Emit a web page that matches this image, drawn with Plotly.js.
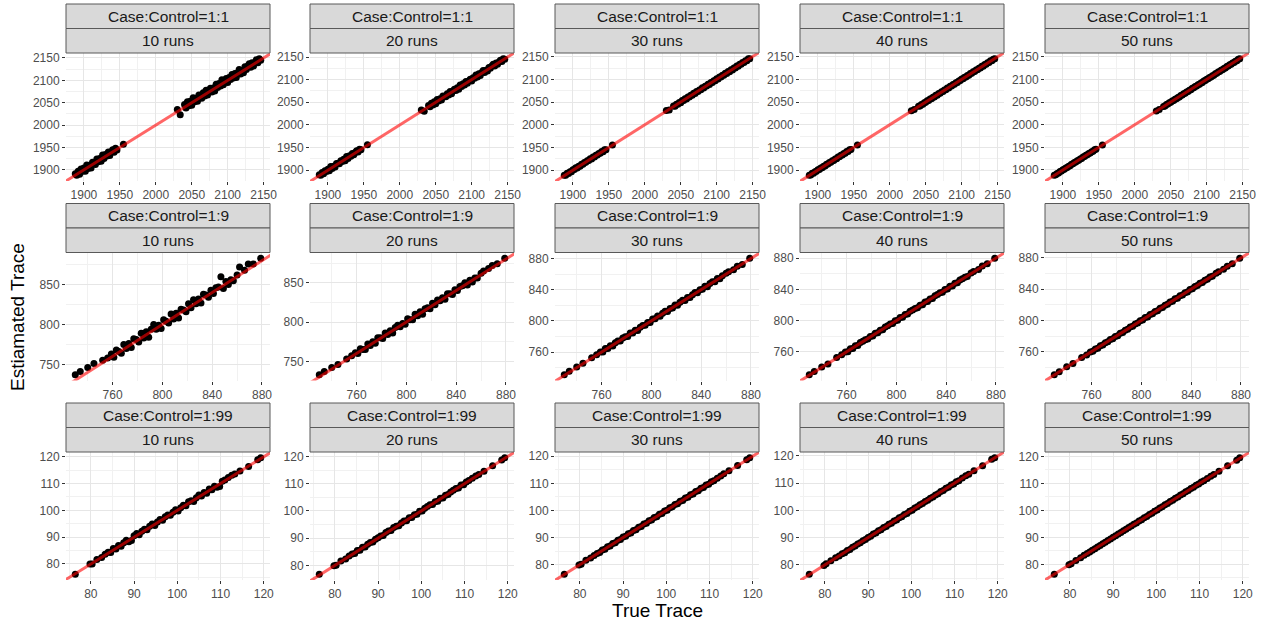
<!DOCTYPE html>
<html>
<head>
<meta charset="utf-8">
<script src="https://cdn.plot.ly/plotly-3.0.1.min.js"></script>
<style>
  html, body { margin: 0; padding: 0; background: #ffffff; }
  #chart { width: 1263px; height: 622px; }
</style>
</head>
<body>
<div id="chart"></div>
<script>
// Facet labels
const ratioLabels = ['Case:Control=1:1', 'Case:Control=1:9', 'Case:Control=1:99'];
const runLabels = ['10 runs', '20 runs', '30 runs', '40 runs', '50 runs'];

// Tick labels
const ticksR1 = [1900, 1950, 2000, 2050, 2100, 2150];
const ticksR2x = [760, 800, 840, 880];
const ticksR2yA = [750, 800, 850];
const ticksR2yB = [760, 800, 840, 880];
const ticksR3 = [80, 90, 100, 110, 120];

// Case:Control = 1:1 — true trace and estimated trace per number of runs
const trueR1 = [1888,1890,1892,1894,1896,1898,1900,1902,1904,1906,1908,1910,1912,1914,1916,1918,1920,1922,1924,1926,1928,1930,1932,1934,1936,1938,1940,1942,1944,1946,
  1955,2030,2034,
  2040,2042,2044,2046,2048,2050,2052,2054,2056,2058,2060,2062,2064,2066,2068,2070,2072,2074,2076,2078,2080,2082,2084,2086,2088,2090,2092,2094,2096,2098,
  2100,2102,2104,2106,2108,2110,2112,2114,2116,2118,2120,2122,2124,2126,2128,2130,2132,2134,2136,2138,2140,2142,2144,2146];
const est11_10 = [1891,1888,1897,1890,1902,1897,1904,1897,1911,1903,1910,1904,1917,1915,1912,1924,1918,1925,1919,1933,1925,1934,1931,1940,1932,1940,1945,1939,1948,1944,
  1957,2035,2023,
  2046,2038,2052,2043,2053,2044,2061,2052,2060,2053,2067,2063,2060,2072,2065,2078,2067,2076,2082,2074,2083,2076,2091,2084,2093,2087,2101,2090,2098,2104,
  2095,2106,2102,2113,2105,2115,2106,2117,2124,2114,2122,2117,2130,2124,2132,2137,2129,2139,2132,2140,2146,2139,2148,2145];
const est11_20 = [1890,1889,1895,1892,1899,1897,1902,1899,1908,1904,1909,1907,1915,1915,1914,1921,1919,1924,1921,1930,1926,1932,1931,1937,1934,1939,1943,1940,1946,1945,
  1956,2033,2030,
  2043,2040,2048,2044,2051,2047,2056,2053,2058,2055,2064,2063,2062,2069,2066,2074,2069,2075,2079,2076,2082,2079,2088,2085,2091,2088,2096,2092,2097,2101,
  2097,2104,2103,2110,2106,2113,2109,2116,2120,2116,2121,2119,2127,2125,2130,2134,2130,2137,2134,2139,2143,2140,2146,2145];
const est11_30 = [1889.2,1889.2,1893.5,1893.0,1896.7,1896.7,1901.1,1901.5,1905.4,1905.1,1908.8,1909.0,1913.3,1913.2,1917.1,1917.4,1921.0,1921.3,1925.2,1924.6,1929.3,1929.1,1933.0,1933.4,1936.8,1937.2,1941.4,1940.9,1945.1,1945.3,
  1955.8,2031.3,2032.6,
  2041.2,2041.1,2045.4,2045.0,2048.9,2048.8,2053.3,2053.4,2057.1,2056.9,2061.2,2061.1,2064.9,2065.0,2069.3,2068.9,2073.1,2073.2,2076.8,2077.0,2081.4,2080.8,2085.1,2085.2,2089.0,2088.9,2093.3,2093.0,2096.8,2097.2,
  2101.2,2100.9,2105.3,2105.1,2108.8,2109.0,2113.2,2112.9,2117.1,2117.0,2121.3,2120.8,2125.0,2125.1,2129.2,2128.9,2133.3,2133.0,2136.9,2137.2,2141.1,2140.8,2145.2,2145.1];
const est11_40 = [1888.8,1889.4,1892.9,1893.3,1896.6,1897.2,1900.7,1901.3,1904.9,1905.4,1908.6,1909.3,1912.8,1913.4,1916.7,1917.2,1920.9,1921.4,1924.6,1925.3,1928.8,1929.2,1932.7,1933.4,1936.8,1937.3,1940.9,1941.2,1944.7,1945.4,
  1955.5,2030.8,2033.4,
  2040.8,2041.3,2044.9,2045.2,2048.7,2049.4,2052.8,2053.3,2056.9,2057.2,2060.7,2061.4,2064.8,2065.3,2068.9,2069.2,2072.7,2073.4,2076.8,2077.3,2080.9,2081.2,2084.7,2085.4,2088.8,2089.3,2092.9,2093.2,2096.7,2097.4,
  2100.8,2101.3,2104.9,2105.2,2108.7,2109.4,2112.8,2113.3,2116.9,2117.2,2120.7,2121.4,2124.8,2125.3,2128.9,2129.2,2132.7,2133.4,2136.8,2137.3,2140.9,2141.2,2144.7,2145.4];
const est11_50 = [1888.5,1889.6,1892.4,1893.5,1896.5,1897.6,1900.4,1901.5,1904.5,1905.6,1908.4,1909.5,1912.5,1913.6,1916.4,1917.5,1920.5,1921.6,1924.4,1925.5,1928.5,1929.6,1932.4,1933.5,1936.5,1937.6,1940.4,1941.5,1944.5,1945.6,
  1955.3,2030.5,2033.6,
  2040.5,2041.6,2044.4,2045.5,2048.5,2049.6,2052.4,2053.5,2056.5,2057.6,2060.4,2061.5,2064.5,2065.6,2068.4,2069.5,2072.5,2073.6,2076.4,2077.5,2080.5,2081.6,2084.4,2085.5,2088.5,2089.6,2092.4,2093.5,2096.5,2097.6,
  2100.4,2101.5,2104.5,2105.6,2108.4,2109.5,2112.5,2113.6,2116.4,2117.5,2120.5,2121.6,2124.4,2125.5,2128.5,2129.6,2132.4,2133.5,2136.5,2137.6,2140.4,2141.5,2144.5,2145.6];

// Case:Control = 1:9
const trueR2 = [730,734,740,745,752,756,
  759,761,763,765,767,769,771,773,775,777,779,781,783,785,787,789,791,793,795,797,799,801,803,805,807,809,811,813,815,817,
  819,821,823,825,827,829,831,833,835,837,839,841,843,845,847,849,851,853,855,857,
  860,862,866,869,873,879];
const est19_10 = [737,741,746,751,755,758,
  763,759,768,766,764,775,770,776,771,782,781,778,789,783,791,784,794,800,794,799,795,806,804,802,813,807,814,808,819,818,
  816,826,821,831,826,832,827,838,837,834,843,839,846,847,860,845,854,850,856,855,
  862,872,868,876,876,883];
const est19_20 = [733,737,742,746,753,757,
  761,760,766,765,765,772,770,775,773,780,780,779,786,784,789,786,793,796,794,798,797,804,803,803,810,808,813,810,817,818,
  817,824,822,828,827,831,829,836,836,835,841,840,845,846,850,847,853,851,856,856,
  862,865,868,872,874,881];
const est19_30 = [731,735.5,741,745.5,752.8,756.5,
  760.2,760.2,764.5,764.5,768.0,767.8,771.8,774.3,774.1,778.1,779.6,779.9,784.4,784.4,788.0,787.7,791.9,794.2,794.3,797.8,798.0,802.3,802.6,806.1,805.8,809.7,812.4,812.1,816.0,816.5,
  820.2,820.0,823.9,826.3,826.2,830.1,829.9,833.6,836.4,836.1,840.0,840.4,844.3,843.8,847.8,850.1,850.3,854.2,854.0,857.9,
  861.2,862.9,865.6,870.1,872.4,880.2];
const est19_40 = [730.8,734.9,740.6,744.6,752.7,756.4,
  759.8,760.3,763.9,764.4,767.7,768.3,771.9,773.5,775.6,776.4,779.8,780.3,783.9,784.4,787.7,788.3,791.9,793.5,795.6,796.4,799.8,800.3,803.9,804.4,807.7,808.3,811.9,813.5,815.6,816.4,
  819.8,820.3,823.9,824.4,827.7,828.3,831.9,833.5,835.6,836.4,839.8,840.3,843.9,844.4,847.7,848.3,851.9,853.5,855.6,856.4,
  860.8,862.7,865.5,869.8,872.6,879.7];
const est19_50 = [730.5,734.4,740.5,744.7,752.5,755.6,
  759.5,760.6,763.4,764.5,767.6,768.5,771.4,772.6,775.5,776.6,779.4,780.5,783.6,784.5,787.4,788.6,791.5,792.5,795.4,796.6,799.5,800.4,803.6,804.5,807.5,808.6,811.4,812.5,815.6,816.5,
  819.4,820.6,823.5,824.4,827.6,828.5,831.5,832.6,835.4,836.5,839.6,840.5,843.4,844.6,847.5,848.5,851.4,852.6,855.5,856.5,
  860.5,862.4,865.6,869.4,872.6,879.5];

// Case:Control = 1:99
const trueR3 = [76.4,79.8,80.3,81.4,82.5,83.3,
  84.0,84.6,85.2,85.8,86.4,87.0,87.6,88.2,88.8,89.4,90.0,90.6,91.2,91.8,92.4,93.0,93.6,94.2,94.8,95.4,
  96.0,96.6,97.2,97.8,98.4,99.0,99.6,100.2,100.8,101.4,102.0,102.6,103.2,103.8,104.4,105.0,105.6,106.2,106.8,107.4,
  108.0,108.6,109.2,109.8,110.4,111.0,
  111.8,112.6,113.3,114.5,116.5,118.6,119.3];
const est199_10 = [76.2,80.0,80.0,81.7,82.4,83.6,
  84.4,84.3,85.8,85.6,86.9,86.6,87.9,88.9,88.3,88.8,90.5,91.4,90.9,92.2,93.0,92.8,94.1,94.9,94.4,95.7,
  96.6,96.3,97.6,98.3,98.2,99.3,100.2,99.8,101.0,101.9,101.7,103.2,103.6,103.3,104.7,105.7,105.4,106.7,106.4,108.0,
  107.7,109.0,108.6,108.9,110.9,111.3,
  112.3,113.1,113.6,114.7,116.4,118.9,119.6];
const est199_20 = [76.8,79.9,80.1,81.6,82.4,83.5,
  84.2,84.4,85.5,85.6,86.7,86.8,87.8,88.4,88.6,89.6,90.2,90.8,91.0,92.1,92.6,92.8,93.9,94.4,94.6,95.6,
  96.3,96.4,97.5,97.6,98.6,98.8,99.9,100.0,101.0,101.6,102.3,102.4,103.4,103.6,104.7,104.8,105.8,106.0,107.0,107.6,
  108.2,108.4,109.5,109.6,110.6,111.2,
  112.0,112.8,113.4,114.6,116.6,118.7,119.5];
const est199_30 = [76.5,79.9,80.2,81.6,82.5,83.4,
  84.1,84.5,85.4,85.7,86.6,86.9,87.8,88.1,89.0,89.3,90.2,90.5,91.4,91.7,92.6,92.9,93.8,94.1,95.0,95.3,
  96.2,96.5,97.4,97.7,98.6,98.9,99.8,100.1,101.0,101.3,102.2,102.5,103.4,103.7,104.6,104.9,105.8,106.1,107.0,107.3,
  108.2,108.5,109.4,109.7,110.6,110.9,
  111.9,112.7,113.5,114.6,116.6,118.7,119.4];
const est199_40 = [76.6,79.8,80.4,81.5,82.6,83.3,
  84.1,84.5,85.3,85.7,86.5,86.9,87.7,88.1,88.9,89.3,90.1,90.5,91.3,91.7,92.5,92.9,93.7,94.1,94.9,95.3,
  96.1,96.5,97.3,97.7,98.5,98.9,99.7,100.1,100.9,101.3,102.1,102.5,103.3,103.7,104.5,104.9,105.7,106.1,106.9,107.3,
  108.1,108.5,109.3,109.7,110.5,110.9,
  111.9,112.7,113.3,114.6,116.4,118.8,119.3];
const est199_50 = [76.4,79.9,80.3,81.5,82.5,83.4,
  84.1,84.6,85.3,85.8,86.5,87.0,87.7,88.2,88.9,89.4,90.1,90.6,91.3,91.8,92.5,93.0,93.7,94.2,94.9,95.4,
  96.1,96.6,97.3,97.8,98.5,99.0,99.7,100.2,100.9,101.4,102.1,102.6,103.3,103.8,104.5,105.0,105.7,106.2,106.9,107.4,
  108.1,108.6,109.3,109.8,110.5,111.0,
  111.8,112.7,113.3,114.5,116.6,118.6,119.5];

// Facet grid assembly
const rows = [
  { trueVals: trueR1, est: [est11_10, est11_20, est11_30, est11_40, est11_50],
    xTicks: [ticksR1, ticksR1, ticksR1, ticksR1, ticksR1],
    yTicks: [ticksR1, ticksR1, ticksR1, ticksR1, ticksR1] },
  { trueVals: trueR2, est: [est19_10, est19_20, est19_30, est19_40, est19_50],
    xTicks: [ticksR2x, ticksR2x, ticksR2x, ticksR2x, ticksR2x],
    yTicks: [ticksR2yA, ticksR2yA, ticksR2yB, ticksR2yB, ticksR2yB] },
  { trueVals: trueR3, est: [est199_10, est199_20, est199_30, est199_40, est199_50],
    xTicks: [ticksR3, ticksR3, ticksR3, ticksR3, ticksR3],
    yTicks: [ticksR3, ticksR3, ticksR3, ticksR3, ticksR3] }
];

const W = 1263, H = 622;
const colPx = [[66, 270], [310, 514], [555, 759], [800, 1004], [1045, 1249]];
const rowTopPx = [53, 252.5, 452];
const panelH = 128;
const stripH = 24.5;
const FONT = 'Liberation Sans, Arial, Helvetica, sans-serif';

function expandRange(vals) {
  const lo = Math.min(...vals), hi = Math.max(...vals);
  const pad = (hi - lo) * 0.05;
  return [lo - pad, hi + pad];
}
function axisStyle(ticks, range, domain, anchor) {
  const step = ticks[1] - ticks[0];
  return {
    domain: domain, anchor: anchor, range: range, autorange: false,
    tickmode: 'linear', tick0: ticks[0], dtick: step,
    ticks: 'outside', ticklen: 3, tickwidth: 1, tickcolor: '#333333',
    tickfont: { family: FONT, size: 12, color: '#4d4d4d' },
    showgrid: true, gridcolor: '#e6e6e6', gridwidth: 1,
    minor: { tickmode: 'linear', tick0: ticks[0], dtick: step / 2, showgrid: true,
             gridcolor: '#f1f1f1', gridwidth: 1, ticks: '' },
    zeroline: false, showline: false, fixedrange: true
  };
}

const traces = [];
const layout = {
  width: W, height: H,
  margin: { l: 0, r: 0, t: 0, b: 0 },
  paper_bgcolor: '#ffffff', plot_bgcolor: '#ffffff',
  showlegend: false,
  shapes: [], annotations: []
};

rows.forEach((row, r) => {
  row.est.forEach((est, c) => {
    const n = r * 5 + c + 1;
    const sfx = n === 1 ? '' : String(n);
    const [x0, x1] = colPx[c];
    const top = rowTopPx[r];
    const xr = expandRange(row.trueVals);
    const yr = expandRange(est);

    layout['xaxis' + sfx] = axisStyle(row.xTicks[c], xr, [x0 / W, x1 / W], 'y' + sfx);
    layout['yaxis' + sfx] = axisStyle(row.yTicks[c], yr,
      [1 - (top + panelH) / H, 1 - top / H], 'x' + sfx);

    traces.push({
      type: 'scatter', mode: 'markers',
      x: row.trueVals, y: est,
      xaxis: 'x' + sfx, yaxis: 'y' + sfx,
      marker: { color: '#000000', size: 7 },
      hoverinfo: 'x+y'
    });
    // identity line y = x across the panel
    const lo = Math.min(xr[0], yr[0]) - 50, hi = Math.max(xr[1], yr[1]) + 50;
    traces.push({
      type: 'scatter', mode: 'lines',
      x: [lo, hi], y: [lo, hi],
      xaxis: 'x' + sfx, yaxis: 'y' + sfx,
      line: { color: 'rgba(255,0,0,0.6)', width: 3 },
      hoverinfo: 'skip'
    });

    // two-level strip labels
    const s1 = top - 2 * stripH, s2 = top - stripH;
    [[s1, ratioLabels[r]], [s2, runLabels[c]]].forEach(([sy, label]) => {
      layout.shapes.push({
        type: 'rect', xref: 'paper', yref: 'paper',
        x0: x0 / W, x1: x1 / W, y0: 1 - (sy + stripH) / H, y1: 1 - sy / H,
        fillcolor: '#d9d9d9', line: { color: '#595959', width: 1 }, layer: 'above'
      });
      layout.annotations.push({
        xref: 'paper', yref: 'paper',
        x: (x0 + x1) / 2 / W, y: 1 - (sy + stripH / 2) / H,
        xanchor: 'center', yanchor: 'middle', showarrow: false,
        text: label, font: { family: FONT, size: 15.5, color: '#1a1a1a' }
      });
    });
  });
});

// shared axis titles
layout.annotations.push({
  xref: 'paper', yref: 'paper', x: 657 / W, y: 1 - 610 / H,
  xanchor: 'center', yanchor: 'middle', showarrow: false,
  text: 'True Trace', font: { family: FONT, size: 19, color: '#000000' }
});
layout.annotations.push({
  xref: 'paper', yref: 'paper', x: 17 / W, y: 1 - 317 / H,
  xanchor: 'center', yanchor: 'middle', showarrow: false, textangle: -90,
  text: 'Estiamated Trace', font: { family: FONT, size: 19, color: '#000000' }
});

Plotly.newPlot('chart', traces, layout, { displayModeBar: false, staticPlot: true });
</script>
</body>
</html>
